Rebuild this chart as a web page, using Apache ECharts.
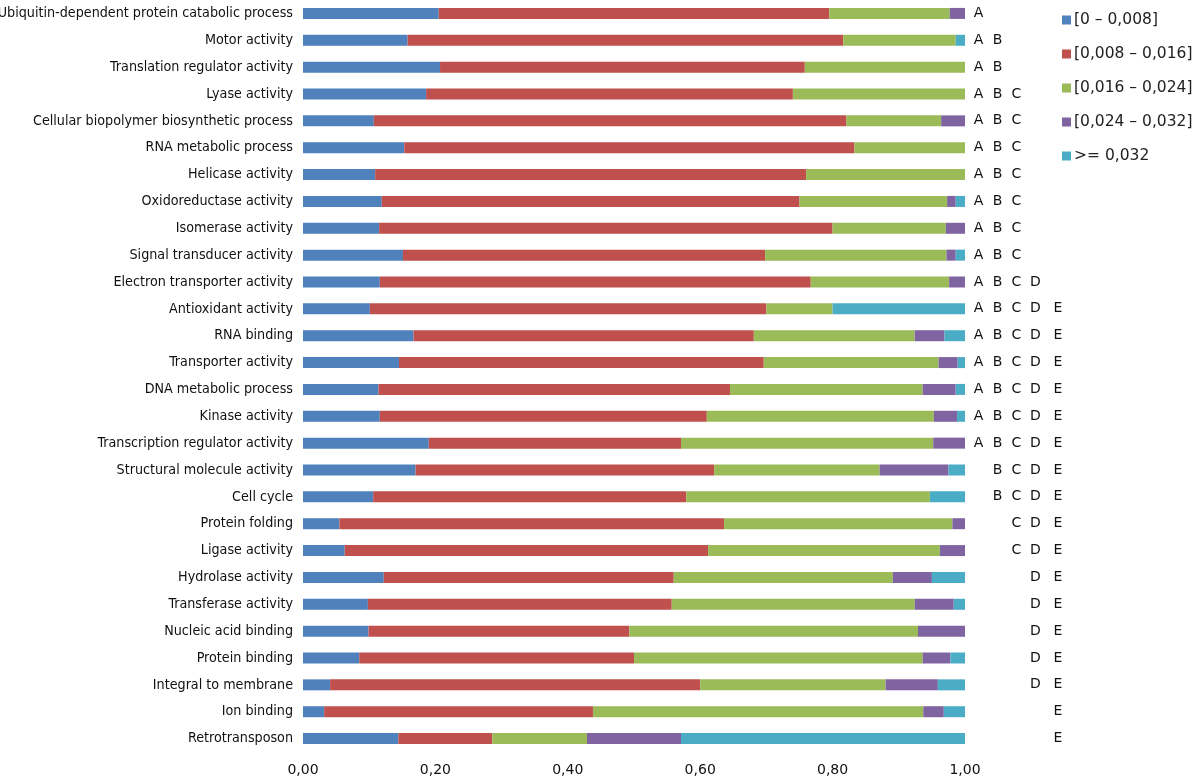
<!DOCTYPE html>
<html>
<head>
<meta charset="utf-8">
<script src="https://cdn.jsdelivr.net/npm/echarts@6/dist/echarts.min.js"></script>
<style>html,body{margin:0;padding:0;background:#fff;}#chart{width:1200px;height:779px;}</style>
</head>
<body>
<div id="chart"></div>
<script>
const categories = [
  "Ubiquitin-dependent protein catabolic process","Motor activity","Translation regulator activity","Lyase activity",
  "Cellular biopolymer biosynthetic process","RNA metabolic process","Helicase activity","Oxidoreductase activity",
  "Isomerase activity","Signal transducer activity","Electron transporter activity","Antioxidant activity",
  "RNA binding","Transporter activity","DNA metabolic process","Kinase activity","Transcription regulator activity",
  "Structural molecule activity","Cell cycle","Protein folding","Ligase activity","Hydrolase activity",
  "Transferase activity","Nucleic acid binding","Protein binding","Integral to membrane","Ion binding","Retrotransposon"
];
const letters = [
  "A","AB","AB","ABC","ABC","ABC","ABC","ABC","ABC","ABC","ABCD",
  "ABCDE","ABCDE","ABCDE","ABCDE","ABCDE","ABCDE",
  "BCDE","BCDE","CDE","CDE","DE","DE","DE","DE","DE","E","E"
];
const seriesNames = ["[0 \u2013 0,008]","[0,008 \u2013 0,016]","[0,016 \u2013 0,024]","[0,024 \u2013 0,032]",">= 0,032"];
const s1 = [0.205,0.158,0.207,0.186,0.107,0.153,0.109,0.119,0.115,0.151,0.116,0.101,0.167,0.145,0.114,0.116,0.190,0.170,0.106,0.055,0.063,0.122,0.098,0.099,0.085,0.041,0.032,0.144];
const s2 = [0.590,0.658,0.551,0.554,0.714,0.680,0.651,0.631,0.685,0.547,0.651,0.599,0.514,0.551,0.531,0.494,0.381,0.451,0.473,0.581,0.549,0.438,0.459,0.394,0.415,0.559,0.406,0.142];
const s3 = [0.182,0.170,0.242,0.260,0.143,0.167,0.240,0.223,0.171,0.274,0.209,0.100,0.243,0.264,0.291,0.343,0.381,0.250,0.368,0.345,0.350,0.331,0.367,0.436,0.436,0.280,0.499,0.143];
const s4 = [0.023,0,0,0,0.036,0,0,0.013,0.029,0.014,0.024,0,0.045,0.029,0.050,0.035,0.048,0.104,0,0.019,0.038,0.059,0.059,0.071,0.042,0.079,0.031,0.142];
const s5 = [0,0.014,0,0,0,0,0,0.014,0,0.014,0,0.200,0.031,0.011,0.014,0.012,0,0.025,0.053,0,0,0.050,0.017,0,0.022,0.041,0.032,0.429];
const xTicks = [0,0.2,0.4,0.6,0.8,1.0];

const colors = ["#4F81BD","#C0504D","#9BBB59","#8064A2","#4BACC6"];
const values = [s1,s2,s3,s4,s5];

const chart = echarts.init(document.getElementById('chart'), null, {renderer:'canvas'});
const letterRich = {
  k: {width:19, align:'center', fontSize:14, color:'#111', fontFamily:'DejaVu Sans'},
  e: {width:26, align:'center', fontSize:14, color:'#111', fontFamily:'DejaVu Sans'}
};
chart.setOption({
  animation:false,
  color: colors,
  textStyle:{fontFamily:'DejaVu Sans'},
  legend:{
    orient:'vertical', left:1057, top:7, itemWidth:9, itemHeight:9, itemGap:18,
    icon:'rect',
    data: seriesNames,
    textStyle:{fontSize:15.5, color:'#222', fontFamily:'DejaVu Sans', padding:[0,0,0,-2]}
  },
  grid:{left:303, right:235, top:0, bottom:27, containLabel:false, outerBoundsMode:'none'},
  xAxis:{
    type:'value', min:0, max:1, interval:0.2,
    axisLine:{show:false}, axisTick:{show:false}, splitLine:{show:false},
    axisLabel:{fontSize:14, color:'#111', margin:11, fontFamily:'DejaVu Sans',
      formatter: v => (xTicks.some(t=>Math.abs(t-v)<1e-9) ? v.toFixed(2).replace('.',',') : '')}
  },
  yAxis:[{
    type:'category', inverse:true, data:categories,
    axisLine:{show:false}, axisTick:{show:false},
    axisLabel:{fontSize:14.2, color:'#111', margin:10, fontFamily:'DejaVu Sans Condensed', interval:0}
  },{
    type:'category', inverse:true, data:letters, position:'right',
    axisLine:{show:false}, axisTick:{show:false},
    axisLabel:{margin:4, interval:0, align:'left',
      formatter: v => 'ABCDE'.split('').map(ch => {
        const t = ch==='E' ? 'e' : 'k';
        return '{'+t+'|'+(v.indexOf(ch)>=0 ? ch : '\u00a0')+'}';
      }).join(''),
      rich: letterRich
    }
  }],
  series: values.map((d,i)=>({
    name: seriesNames[i], type:'bar', stack:'total', barWidth:11, data:d, yAxisIndex:0,
    itemStyle:{color:colors[i]}
  }))
});
</script>
</body>
</html>
